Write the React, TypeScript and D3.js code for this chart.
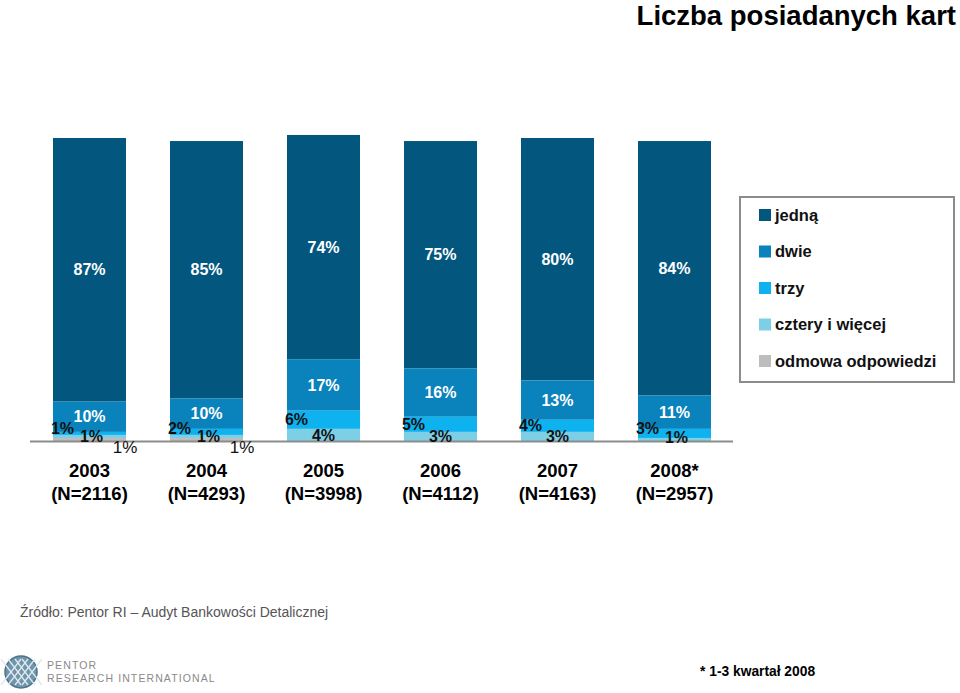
import React from "react";
import * as d3 from "d3";

const years = ["2003", "2004", "2005", "2006", "2007", "2008*"];
const sampleSizes = ["(N=2116)", "(N=4293)", "(N=3998)", "(N=4112)", "(N=4163)", "(N=2957)"];
const seriesNames = ["jedną", "dwie", "trzy", "cztery i więcej", "odmowa odpowiedzi"];
const jedna = [87, 85, 74, 75, 80, 84];
const dwie = [10, 10, 17, 16, 13, 11];
const trzy = [1, 2, 6, 5, 4, 3];
const cztery = [1, 1, 4, 3, 3, 1];
const odmowa = [1, 1, 0, 0, 0, 0];
const colors = ["#03577f", "#0a82bb", "#0db2ef", "#7ccfe4", "#bdbdbd"];

const W = 960;
const H = 693;
const baseline = 441;
const FONT = "Liberation Sans, Arial, Helvetica, sans-serif";

export default function App() {
  const series = [jedna, dwie, trzy, cztery, odmowa];
  const rows = years.map((y, i) => {
    const r: any = { year: y };
    seriesNames.forEach((s, k) => (r[s] = series[k][i]));
    return r;
  });
  const stack = d3.stack<any>().keys(seriesNames).order(d3.stackOrderReverse);
  const stacked = stack(rows);

  const x = d3.scaleBand().domain(years).range([53, 711]).paddingInner(0.376).paddingOuter(0);
  const y = d3.scaleLinear().domain([0, 100]).range([baseline, baseline - 303]);
  const bw = x.bandwidth();

  const labels: any[] = [];
  stacked.forEach((layer) => {
    const k = seriesNames.indexOf(layer.key);
    layer.forEach((d, i) => {
      const v = series[k][i];
      if (!v) return;
      const x0 = x(years[i])!;
      const top = y(d[1]);
      const bot = y(d[0]);
      const cy = (top + bot) / 2;
      if (k === 0 || k === 1) {
        labels.push({ x: x0 + bw / 2, y: cy, t: v + "%", fill: "#fff", bold: true });
      } else if (k === 2) {
        labels.push({ x: x0 + bw * 0.13, y: Math.min(cy, baseline - 13), t: v + "%", fill: "#111", bold: true });
      } else if (k === 3) {
        labels.push({ x: x0 + bw / 2 + (v > 1 ? 0 : 2), y: Math.min(cy, baseline - 4), t: v + "%", fill: "#111", bold: true });
      } else {
        labels.push({ x: x0 + bw - 1, y: baseline + 6, t: v + "%", fill: "#111", bold: false });
      }
    });
  });

  const legendY = d3.scalePoint().domain(seriesNames).range([215, 361]);

  return (
    <svg width={W} height={H} style={{ position: "absolute", left: 0, top: 0 }} fontFamily={FONT}>
      <rect width={W} height={H} fill="#fff" />
      <text x={956} y={25} textAnchor="end" fontSize={27.5} fontWeight="bold" fill="#000">
        Liczba posiadanych kart
      </text>

      {stacked.map((layer) => {
        const k = seriesNames.indexOf(layer.key);
        return (
          <g key={layer.key} fill={colors[k]}>
            {layer.map((d, i) => (
              <rect key={i} x={x(years[i])} y={y(d[1])} width={bw} height={Math.max(0, y(d[0]) - y(d[1]))} />
            ))}
          </g>
        );
      })}
      <line x1={30} x2={733} y1={baseline + 0.5} y2={baseline + 0.5} stroke="#8c8c8c" strokeWidth={2} />

      {labels.map((l, i) => (
        <text key={i} x={l.x} y={l.y} dy="0.35em" textAnchor="middle" fontSize={l.bold ? 16 : 17}
          fontWeight={l.bold ? "bold" : "normal"} fill={l.fill}>
          {l.t}
        </text>
      ))}

      {years.map((yr, i) => (
        <g key={yr} fontSize={18.5} fontWeight="bold" textAnchor="middle" fill="#000">
          <text x={x(yr)! + bw / 2} y={477}>{yr}</text>
          <text x={x(yr)! + bw / 2} y={500}>{sampleSizes[i]}</text>
        </g>
      ))}

      <rect x={740} y={197} width={214} height={185} fill="#fff" stroke="#8c8c8c" strokeWidth={2} />
      {seriesNames.map((s, k) => (
        <g key={s}>
          <rect x={759} y={legendY(s)! - 6} width={12} height={12} fill={colors[k]} />
          <text x={775} y={legendY(s)!} dy="0.35em" fontSize={16.5} fontWeight="bold" fill="#111">{s}</text>
        </g>
      ))}

      <text x={20} y={617} fontSize={14} fill="#555">Źródło: Pentor RI – Audyt Bankowości Detalicznej</text>
      <text x={700} y={676} fontSize={13.8} fontWeight="bold" fill="#000">* 1-3 kwartał 2008</text>

      <g>
        <circle cx={21} cy={672} r={16} fill="#6f95aa" />
        <circle cx={21} cy={672} r={16} fill="none" stroke="#4d7389" strokeWidth={1.5} />
        {[-10, -3, 4, 11].map((o) => (
          <path key={"a" + o} d={`M${21 + o - 10},${672 - 13} Q${21 + o},672 ${21 + o + 10},${672 + 13}`} stroke="#dfe9ef" strokeWidth={1.3} fill="none" />
        ))}
        {[-10, -3, 4, 11].map((o) => (
          <path key={"b" + o} d={`M${21 + o + 10},${672 - 13} Q${21 + o},672 ${21 + o - 10},${672 + 13}`} stroke="#dfe9ef" strokeWidth={1.3} fill="none" />
        ))}
        <text x={47} y={669} fontSize={10.5} fill="#8a8a8a" letterSpacing={1.1}>PENTOR</text>
        <text x={47} y={682} fontSize={10.5} fill="#8a8a8a" letterSpacing={1.1}>RESEARCH INTERNATIONAL</text>
      </g>
    </svg>
  );
}
